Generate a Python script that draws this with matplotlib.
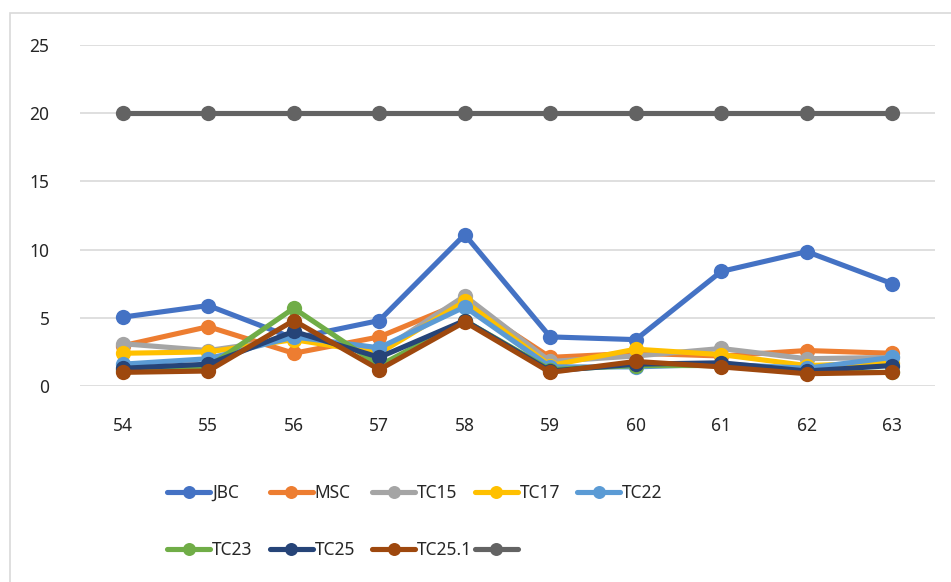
import matplotlib
matplotlib.use("Agg")
import matplotlib.pyplot as plt
from matplotlib.lines import Line2D
from matplotlib.patches import Rectangle

years = [54, 55, 56, 57, 58, 59, 60, 61, 62, 63]

jbc = [5.05, 5.9, 3.5, 4.8, 11.1, 3.6, 3.4, 8.4, 9.85, 7.5]
msc = [2.95, 4.35, 2.4, 3.6, 6.2, 2.1, 2.4, 2.2, 2.6, 2.4]
tc15 = [3.1, 2.6, 3.5, 2.5, 6.6, 1.8, 2.2, 2.75, 2.0, 2.1]
tc17 = [2.4, 2.5, 3.4, 2.4, 6.2, 1.5, 2.7, 2.3, 1.5, 1.7]
tc22 = [1.6, 2.0, 3.6, 2.8, 5.8, 1.4, 1.4, 1.6, 1.3, 2.1]
tc23 = [1.2, 1.4, 5.7, 1.5, 4.8, 1.2, 1.5, 1.5, 1.0, 1.0]
tc25 = [1.3, 1.6, 4.0, 2.1, 4.8, 1.1, 1.6, 1.7, 1.1, 1.5]
tc25_1 = [1.0, 1.1, 4.8, 1.2, 4.7, 1.0, 1.8, 1.4, 0.9, 1.0]
limit = [20, 20, 20, 20, 20, 20, 20, 20, 20, 20]

series_names = ["JBC", "MSC", "TC15", "TC17", "TC22", "TC23", "TC25", "TC25.1", ""]
series_values = [jbc, msc, tc15, tc17, tc22, tc23, tc25, tc25_1, limit]
series_colors = ["#4472C4", "#ED7D31", "#A5A5A5", "#FFC000", "#5B9BD5",
                 "#70AD47", "#264478", "#9E480E", "#636363"]

y_ticks = [0, 5, 10, 15, 20, 25]

plt.rcParams["font.family"] = ["Noto Sans", "DejaVu Sans"]

W, H = 951, 582
fig = plt.figure(figsize=(W / 100, H / 100), dpi=100)

# chart frame
fig.patches.append(Rectangle((10 / W, -0.1), 1.2, 1 - 13 / H + 0.1,
                             transform=fig.transFigure, fill=False,
                             edgecolor="#d9d9d9", linewidth=1.2))

ax = fig.add_axes([80 / W, 1 - 386 / H, (935 - 80) / W, (386 - 45) / H])
ax.set_xlim(53.5, 63.5)
ax.set_ylim(0, 25)

lw = 3.7
ms = 11
handles = []
for name, vals, col in zip(series_names, series_values, series_colors):
    ln, = ax.plot(years, vals, color=col, linewidth=lw, marker="o",
                  markersize=ms, markeredgewidth=0, solid_capstyle="round",
                  solid_joinstyle="round", clip_on=False)
    handles.append(ln)

ax.set_yticks(y_ticks)
ax.set_xticks(years)
ax.yaxis.grid(True, color="#d9d9d9", linewidth=1.2)
ax.set_axisbelow(True)
for s in ax.spines.values():
    s.set_visible(False)
ax.tick_params(axis="both", length=0, labelsize=12.5, colors="#262626")
ax.tick_params(axis="y", pad=22)
ax.tick_params(axis="x", pad=22)

# legend, two rows of five slots
x0 = 167
dx = 102.5
rows_y = [493, 550]
for i, (h, name) in enumerate(zip(handles, series_names)):
    r, c = divmod(i, 5)
    proxy = Line2D([], [], color=h.get_color(), linewidth=lw, marker="o",
                   markersize=ms * 0.85, markeredgewidth=0,
                   solid_capstyle="round")
    fig.legend(handles=[proxy], labels=[name], loc="center left",
               bbox_to_anchor=((x0 + c * dx) / W, 1 - rows_y[r] / H),
               frameon=False, fontsize=12.5, handlelength=2.5,
               handletextpad=0.1, borderpad=0, borderaxespad=0,
               labelcolor="#262626")

fig.savefig("out.png", dpi=100)
